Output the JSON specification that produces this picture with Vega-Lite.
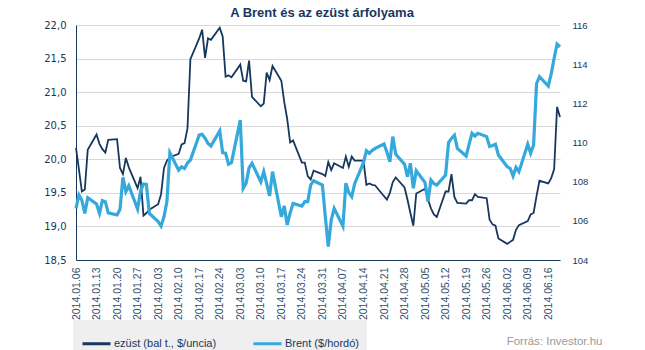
{
  "$schema": "https://vega.github.io/schema/vega-lite/v6.json",
  "autosize": {"type": "none"},
  "padding": {"left": 76, "top": 25, "right": 85, "bottom": 90},
  "width": 484,
  "height": 235,
  "background": "white",
  "title": {
    "text": "A Brent és az ezüst árfolyama",
    "font": "Liberation Sans",
    "fontSize": 13,
    "fontWeight": "bold",
    "color": "#17375e",
    "anchor": "middle",
    "dx": 4,
    "offset": 0
  },
  "config": {
    "view": {"stroke": null},
    "axis": {"labelFont": "Liberation Sans", "titleFont": "Liberation Sans"}
  },
  "data": {"values": [
    {"date": "2014-01-06T00:00", "ezust": 20.17, "brent": 106.64},
    {"date": "2014-01-07T00:00", "ezust": 19.85, "brent": 107.32},
    {"date": "2014-01-08T00:00", "ezust": 19.52, "brent": 107.05},
    {"date": "2014-01-09T00:00", "ezust": 19.55, "brent": 106.38},
    {"date": "2014-01-10T00:00", "ezust": 20.14, "brent": 107.18},
    {"date": "2014-01-13T00:00", "ezust": 20.37, "brent": 106.86},
    {"date": "2014-01-14T00:00", "ezust": 20.23, "brent": 106.38},
    {"date": "2014-01-15T00:00", "ezust": 20.15, "brent": 107.03},
    {"date": "2014-01-16T00:00", "ezust": 20.10, "brent": 106.98},
    {"date": "2014-01-17T00:00", "ezust": 20.29, "brent": 106.41},
    {"date": "2014-01-20T00:00", "ezust": 20.30, "brent": 106.30},
    {"date": "2014-01-21T00:00", "ezust": 19.87, "brent": 106.59},
    {"date": "2014-01-22T00:00", "ezust": 19.78, "brent": 108.22},
    {"date": "2014-01-23T00:00", "ezust": 20.02, "brent": 107.49},
    {"date": "2014-01-24T00:00", "ezust": 19.88, "brent": 107.79},
    {"date": "2014-01-27T00:00", "ezust": 19.57, "brent": 106.60},
    {"date": "2014-01-28T00:00", "ezust": 19.74, "brent": 107.52},
    {"date": "2014-01-29T00:00", "ezust": 19.16, "brent": 107.88},
    {"date": "2014-01-30T00:00", "ezust": 19.20, "brent": 107.86},
    {"date": "2014-01-31T00:00", "ezust": 19.25, "brent": 106.38},
    {"date": "2014-02-03T00:00", "ezust": 19.33, "brent": 105.96},
    {"date": "2014-02-04T00:00", "ezust": 19.48, "brent": 105.73},
    {"date": "2014-02-05T00:00", "ezust": 19.87, "brent": 106.21},
    {"date": "2014-02-06T00:00", "ezust": 19.98, "brent": 106.98},
    {"date": "2014-02-07T00:00", "ezust": 20.03, "brent": 109.48},
    {"date": "2014-02-10T00:00", "ezust": 20.08, "brent": 108.59},
    {"date": "2014-02-11T00:00", "ezust": 20.22, "brent": 108.76},
    {"date": "2014-02-12T00:00", "ezust": 20.24, "brent": 108.67},
    {"date": "2014-02-13T00:00", "ezust": 20.46, "brent": 108.95},
    {"date": "2014-02-14T00:00", "ezust": 21.49, "brent": 109.10},
    {"date": "2014-02-17T00:00", "ezust": 21.80, "brent": 110.38},
    {"date": "2014-02-18T00:00", "ezust": 21.93, "brent": 110.42},
    {"date": "2014-02-19T00:00", "ezust": 21.51, "brent": 110.22},
    {"date": "2014-02-20T00:00", "ezust": 21.80, "brent": 109.95},
    {"date": "2014-02-21T00:00", "ezust": 21.78, "brent": 109.82},
    {"date": "2014-02-24T00:00", "ezust": 21.96, "brent": 110.59},
    {"date": "2014-02-25T00:00", "ezust": 21.83, "brent": 109.48},
    {"date": "2014-02-26T00:00", "ezust": 21.23, "brent": 109.45},
    {"date": "2014-02-27T00:00", "ezust": 21.25, "brent": 108.89},
    {"date": "2014-02-28T00:00", "ezust": 21.22, "brent": 108.97},
    {"date": "2014-03-03T00:00", "ezust": 21.41, "brent": 111.15},
    {"date": "2014-03-04T00:00", "ezust": 21.17, "brent": 107.66},
    {"date": "2014-03-05T00:00", "ezust": 21.16, "brent": 107.92},
    {"date": "2014-03-06T00:00", "ezust": 21.47, "brent": 108.70},
    {"date": "2014-03-07T00:00", "ezust": 20.93, "brent": 108.94},
    {"date": "2014-03-10T00:00", "ezust": 20.79, "brent": 108.00},
    {"date": "2014-03-11T00:00", "ezust": 20.83, "brent": 108.51},
    {"date": "2014-03-12T00:00", "ezust": 21.29, "brent": 107.90},
    {"date": "2014-03-13T00:00", "ezust": 21.18, "brent": 107.27},
    {"date": "2014-03-14T00:00", "ezust": 21.39, "brent": 108.51},
    {"date": "2014-03-17T00:00", "ezust": 21.17, "brent": 106.21},
    {"date": "2014-03-18T00:00", "ezust": 20.85, "brent": 106.76},
    {"date": "2014-03-19T00:00", "ezust": 20.60, "brent": 105.79},
    {"date": "2014-03-20T00:00", "ezust": 20.25, "brent": 106.40},
    {"date": "2014-03-21T00:00", "ezust": 20.28, "brent": 106.89},
    {"date": "2014-03-24T00:00", "ezust": 19.95, "brent": 106.75},
    {"date": "2014-03-25T00:00", "ezust": 19.95, "brent": 106.98},
    {"date": "2014-03-26T00:00", "ezust": 19.75, "brent": 106.98},
    {"date": "2014-03-27T00:00", "ezust": 19.70, "brent": 107.83},
    {"date": "2014-03-28T00:00", "ezust": 19.83, "brent": 108.05},
    {"date": "2014-03-31T00:00", "ezust": 19.78, "brent": 107.83},
    {"date": "2014-04-01T00:00", "ezust": 19.75, "brent": 106.20},
    {"date": "2014-04-02T00:00", "ezust": 19.96, "brent": 104.68},
    {"date": "2014-04-03T00:00", "ezust": 19.84, "brent": 106.04},
    {"date": "2014-04-04T00:00", "ezust": 19.94, "brent": 106.64},
    {"date": "2014-04-07T00:00", "ezust": 19.87, "brent": 105.73},
    {"date": "2014-04-08T00:00", "ezust": 20.04, "brent": 107.92},
    {"date": "2014-04-09T00:00", "ezust": 19.89, "brent": 107.44},
    {"date": "2014-04-10T00:00", "ezust": 20.04, "brent": 107.23},
    {"date": "2014-04-11T00:00", "ezust": 19.98, "brent": 107.90},
    {"date": "2014-04-14T00:00", "ezust": 19.98, "brent": 108.97},
    {"date": "2014-04-15T00:00", "ezust": 19.62, "brent": 109.58},
    {"date": "2014-04-16T00:00", "ezust": 19.64, "brent": 109.45},
    {"date": "2014-04-17T00:00", "ezust": 19.62, "brent": 109.60},
    {"date": "2014-04-18T00:00", "ezust": 19.61, "brent": 109.70},
    {"date": "2014-04-21T00:00", "ezust": 19.45, "brent": 109.92},
    {"date": "2014-04-22T00:00", "ezust": 19.40, "brent": 109.50},
    {"date": "2014-04-23T00:00", "ezust": 19.50, "brent": 109.02},
    {"date": "2014-04-24T00:00", "ezust": 19.66, "brent": 110.30},
    {"date": "2014-04-25T00:00", "ezust": 19.73, "brent": 109.40},
    {"date": "2014-04-28T00:00", "ezust": 19.58, "brent": 108.89},
    {"date": "2014-04-29T00:00", "ezust": 19.40, "brent": 108.25},
    {"date": "2014-04-30T00:00", "ezust": 19.20, "brent": 108.94},
    {"date": "2014-05-01T00:00", "ezust": 19.01, "brent": 107.66},
    {"date": "2014-05-02T00:00", "ezust": 19.49, "brent": 108.56},
    {"date": "2014-05-05T00:00", "ezust": 19.56, "brent": 107.95},
    {"date": "2014-05-06T00:00", "ezust": 19.40, "brent": 106.98},
    {"date": "2014-05-07T00:00", "ezust": 19.27, "brent": 108.08},
    {"date": "2014-05-08T00:00", "ezust": 19.18, "brent": 107.90},
    {"date": "2014-05-09T00:00", "ezust": 19.14, "brent": 107.83},
    {"date": "2014-05-12T00:00", "ezust": 19.52, "brent": 108.34},
    {"date": "2014-05-13T00:00", "ezust": 19.52, "brent": 110.00},
    {"date": "2014-05-14T00:00", "ezust": 19.78, "brent": 110.21},
    {"date": "2014-05-15T00:00", "ezust": 19.44, "brent": 110.38},
    {"date": "2014-05-16T00:00", "ezust": 19.35, "brent": 109.70},
    {"date": "2014-05-19T00:00", "ezust": 19.34, "brent": 109.31},
    {"date": "2014-05-20T00:00", "ezust": 19.39, "brent": 109.90},
    {"date": "2014-05-21T00:00", "ezust": 19.39, "brent": 110.47},
    {"date": "2014-05-22T00:00", "ezust": 19.48, "brent": 110.33},
    {"date": "2014-05-23T00:00", "ezust": 19.44, "brent": 110.47},
    {"date": "2014-05-26T00:00", "ezust": 19.42, "brent": 110.30},
    {"date": "2014-05-27T00:00", "ezust": 19.10, "brent": 109.80},
    {"date": "2014-05-28T00:00", "ezust": 19.03, "brent": 109.85},
    {"date": "2014-05-29T00:00", "ezust": 19.01, "brent": 109.91},
    {"date": "2014-05-30T00:00", "ezust": 18.82, "brent": 109.36},
    {"date": "2014-06-02T00:00", "ezust": 18.74, "brent": 108.76},
    {"date": "2014-06-03T00:00", "ezust": 18.77, "brent": 108.68},
    {"date": "2014-06-04T00:00", "ezust": 18.80, "brent": 108.29},
    {"date": "2014-06-05T00:00", "ezust": 18.95, "brent": 108.73},
    {"date": "2014-06-06T00:00", "ezust": 19.02, "brent": 108.51},
    {"date": "2014-06-09T00:00", "ezust": 19.08, "brent": 109.91},
    {"date": "2014-06-10T00:00", "ezust": 19.18, "brent": 109.45},
    {"date": "2014-06-11T00:00", "ezust": 19.20, "brent": 109.87},
    {"date": "2014-06-12T00:00", "ezust": 19.45, "brent": 113.00},
    {"date": "2014-06-13T00:00", "ezust": 19.68, "brent": 113.36},
    {"date": "2014-06-16T00:00", "ezust": 19.64, "brent": 112.88},
    {"date": "2014-06-17T00:00", "ezust": 19.72, "brent": 113.50},
    {"date": "2014-06-18T00:00", "ezust": 19.85, "brent": 114.30},
    {"date": "2014-06-19T00:00", "ezust": 20.78, "brent": 115.03},
    {"date": "2014-06-20T00:00", "ezust": 20.63, "brent": 114.89}
  ]},
  "encoding": {
    "x": {
      "field": "date",
      "type": "temporal",
      "scale": {"domain": [{"year": 2014, "month": 1, "date": 6}, {"year": 2014, "month": 6, "date": 20}]},
      "axis": {
        "values": [
          {"year": 2014, "month": 1, "date": 6}, {"year": 2014, "month": 1, "date": 13}, {"year": 2014, "month": 1, "date": 20}, {"year": 2014, "month": 1, "date": 27},
          {"year": 2014, "month": 2, "date": 3}, {"year": 2014, "month": 2, "date": 10}, {"year": 2014, "month": 2, "date": 17}, {"year": 2014, "month": 2, "date": 24},
          {"year": 2014, "month": 3, "date": 3}, {"year": 2014, "month": 3, "date": 10}, {"year": 2014, "month": 3, "date": 17}, {"year": 2014, "month": 3, "date": 24}, {"year": 2014, "month": 3, "date": 31},
          {"year": 2014, "month": 4, "date": 7}, {"year": 2014, "month": 4, "date": 14}, {"year": 2014, "month": 4, "date": 21}, {"year": 2014, "month": 4, "date": 28},
          {"year": 2014, "month": 5, "date": 5}, {"year": 2014, "month": 5, "date": 12}, {"year": 2014, "month": 5, "date": 19}, {"year": 2014, "month": 5, "date": 26},
          {"year": 2014, "month": 6, "date": 2}, {"year": 2014, "month": 6, "date": 9}, {"year": 2014, "month": 6, "date": 16}
        ],
        "format": "%Y.%m.%d",
        "labelAngle": 270,
        "labelAlign": "right",
        "labelBaseline": "middle",
        "labelFontSize": 10.5,
        "labelColor": "#34506e",
        "labelPadding": 7,
        "labelOverlap": false,
        "labelFlush": false,
        "ticks": false,
        "grid": false,
        "domainColor": "#17375e",
        "domainWidth": 1,
        "title": "Forrás: Investor.hu",
        "titleX": 526,
        "titleY": 81,
        "titleAlign": "right",
        "titleAnchor": null,
        "titleBaseline": "middle",
        "titleAngle": 0,
        "titleColor": "#9a9a9a",
        "titleFontSize": 11.5,
        "titleFontWeight": "normal"
      }
    }
  },
  "layer": [
    {
      "mark": {"type": "line", "strokeWidth": 1.8, "interpolate": "linear"},
      "encoding": {
        "y": {
          "field": "ezust",
          "type": "quantitative",
          "scale": {"domain": [18.5, 22], "zero": false, "nice": false},
          "axis": {
            "orient": "left",
            "title": null,
            "values": [18.5, 19, 19.5, 20, 20.5, 21, 21.5, 22],
            "labelExpr": "replace(format(datum.value, '.1f'), '.', ',')",
            "labelFont": "DejaVu Sans",
            "labelFontSize": 10,
            "labelColor": "#17375e",
            "labelPadding": 10,
            "ticks": false,
            "grid": true,
            "gridColor": "#d9d9d9",
            "gridWidth": 1,
            "domainColor": "#17375e",
            "domainWidth": 1
          }
        },
        "color": {
          "datum": "ezüst (bal t., $/uncia)",
          "type": "nominal",
          "scale": {"domain": ["ezüst (bal t., $/uncia)", "Brent ($/hordó)"], "range": ["#17375e", "#35a8dc"]},
          "legend": {
            "title": null,
            "orient": "none",
            "legendX": -3,
            "legendY": 295,
            "direction": "horizontal",
            "columns": 2,
            "gridAlign": "all",
            "columnPadding": 30,
            "padding": 8,
            "fillColor": "#efefef",
            "symbolType": "stroke",
            "symbolSize": 784,
            "symbolStrokeWidth": 3,
            "labelFont": "Liberation Sans",
            "labelFontSize": 11,
            "labelColor": "#17375e",
            "labelOffset": 2,
            "labelLimit": 300
          }
        }
      }
    },
    {
      "mark": {"type": "line", "strokeWidth": 3.2, "interpolate": "linear"},
      "encoding": {
        "y": {
          "field": "brent",
          "type": "quantitative",
          "scale": {"domain": [104, 116], "zero": false, "nice": false},
          "axis": {
            "orient": "right",
            "title": null,
            "values": [104, 106, 108, 110, 112, 114, 116],
            "labelFont": "Liberation Sans",
            "labelFontSize": 9.5,
            "labelColor": "#17375e",
            "labelPadding": 12,
            "ticks": false,
            "grid": false,
            "domain": false
          }
        },
        "color": {"datum": "Brent ($/hordó)", "type": "nominal"}
      }
    }
  ],
  "resolve": {"scale": {"y": "independent"}, "axis": {"y": "independent"}}
}
